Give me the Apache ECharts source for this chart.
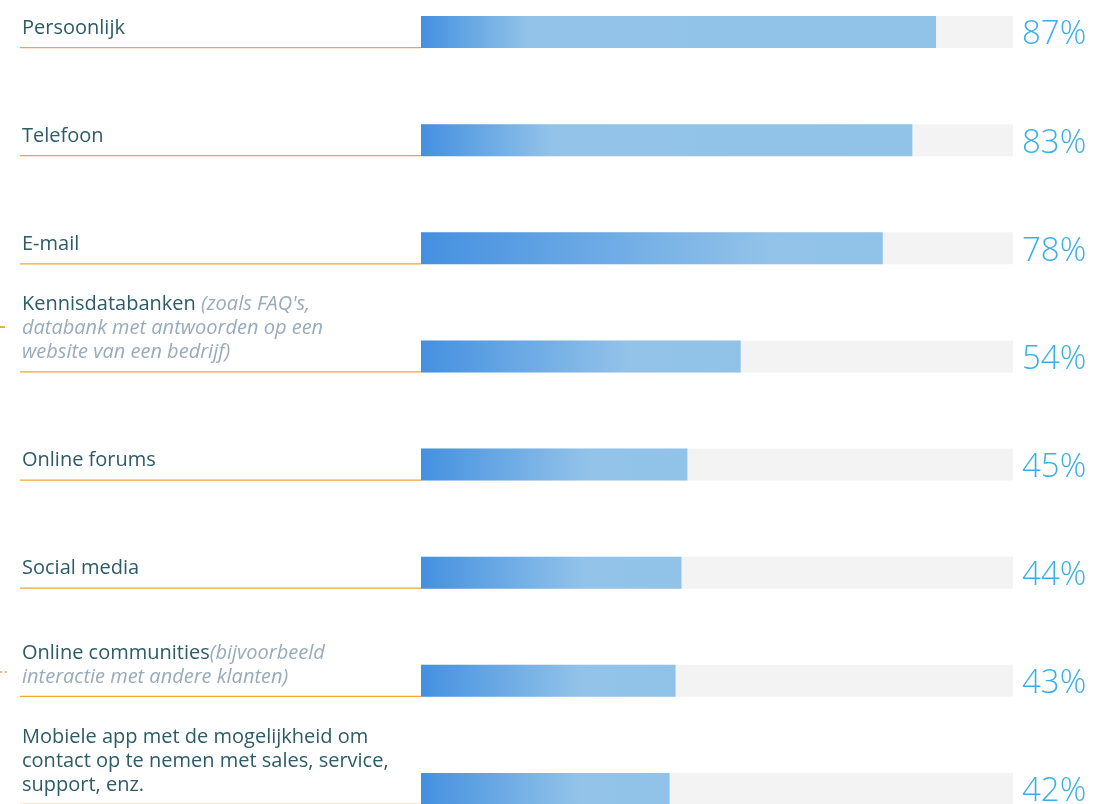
<!DOCTYPE html>
<html>
<head>
<meta charset="utf-8">
<script src="https://cdn.jsdelivr.net/npm/echarts@6/dist/echarts.min.js"></script>
<style>
    html, body { margin: 0; padding: 0; background: #fff; }
    #chart { width: 1109px; height: 804px; }
</style>
</head>
<body>
<div id="chart"></div>
<script>
    // kanalen (hoofdtekst + toelichting in cursief)
    const categories = [
        'Persoonlijk',
        'Telefoon',
        'E-mail',
        'Kennisdatabanken ',
        'Online forums',
        'Social media',
        'Online communities',
        'Mobiele app met de mogelijkheid om\ncontact op te nemen met sales, service,\nsupport, enz.'
    ];
    const notes = [
        '', '', '',
        "(zoals FAQ's,\ndatabank met antwoorden op een\nwebsite van een bedrijf)",
        '', '',
        '(bijvoorbeeld\ninteractie met andere klanten)',
        ''
    ];
    const values = [87, 83, 78, 54, 45, 44, 43, 42];

    // waar de kleurverloop eindigt (stijl, per balk)
    const gradStops = [0.21, 0.27, 0.76, 0.65, 0.63, 0.63, 0.63, 0.64];

    const chart = echarts.init(document.getElementById('chart'));

    function labelText(i) {
        let t = '{a|' + categories[i] + '}';
        if (notes[i]) t += '{b|' + notes[i] + '}';
        return t;
    }

    chart.setOption({
        animation: false,
        grid: { left: 421, right: 96, top: -22, bottom: -39, outerBoundsMode: 'none' },
        xAxis: { type: 'value', min: 0, max: 100, show: false },
        yAxis: {
            type: 'category', inverse: true, show: false,
            data: categories.map((c, i) => i)
        },
        series: [
            {
                // grijze achtergrond + percentage
                type: 'bar',
                data: values.map(() => 100),
                barWidth: 32,
                silent: true,
                itemStyle: { color: '#f3f3f3' },
                label: {
                    show: true,
                    position: 'right',
                    distance: 9,
                    offset: [0, 3],
                    formatter: p => values[p.dataIndex] + '%',
                    fontFamily: 'Open Sans',
                    fontWeight: 300,
                    fontSize: 33,
                    color: '#38b0e6'
                }
            },
            {
                type: 'bar',
                barGap: '-100%',
                barWidth: 32,
                silent: true,
                data: values.map((v, i) => ({
                    value: v,
                    itemStyle: {
                        color: new echarts.graphic.LinearGradient(0, 0, 1, 0, [
                            { offset: 0, color: '#4490e0' },
                            { offset: gradStops[i], color: '#93c3e9' },
                            { offset: 1, color: '#91c2e8' }
                        ])
                    }
                }))
            },
            {
                // tekst links + oranje lijn
                type: 'custom',
                silent: true,
                data: values.map((v, i) => [0, i]),
                renderItem: function (params, api) {
                    const i = api.value(1);
                    const p = api.coord([0, i]);
                    const yb = p[1] + 16;
                    return {
                        type: 'group',
                        children: [
                            {
                                type: 'line',
                                shape: { x1: 20, y1: yb - 0.5, x2: p[0], y2: yb - 0.5 },
                                style: { stroke: '#f4a435', lineWidth: 1.3 }
                            },
                            {
                                type: 'text',
                                style: {
                                    x: 22,
                                    y: yb - 8,
                                    text: labelText(i),
                                    align: 'left',
                                    verticalAlign: 'bottom',
                                    rich: {
                                        a: { fontFamily: 'Open Sans', fontSize: 20, lineHeight: 24, fill: '#2d5b66' },
                                        b: { fontFamily: 'Open Sans', fontStyle: 'italic', fontSize: 20, lineHeight: 24, fill: '#98abb9' }
                                    }
                                }
                            }
                        ]
                    };
                }
            }
        ],
        graphic: [
            { type: 'line', shape: { x1: 0, y1: 327, x2: 5, y2: 327 }, style: { stroke: '#f0900a', lineWidth: 1.5 } },
            { type: 'line', shape: { x1: 0, y1: 672, x2: 8, y2: 672 }, style: { stroke: '#f0a040', lineWidth: 1.5, lineDash: [2, 3] } }
        ]
    });
</script>
</body>
</html>
